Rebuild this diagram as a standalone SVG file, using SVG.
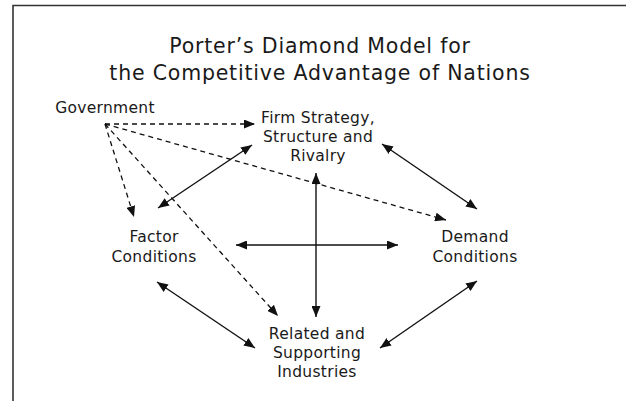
<svg xmlns="http://www.w3.org/2000/svg" width="626" height="401" viewBox="0 0 626 401">
<style>
text{font-family:"DejaVu Sans","Verdana",sans-serif;fill:#1a1a1a;text-anchor:middle}
.t{font-size:20.5px;letter-spacing:0.8px}
.n{font-size:15.5px;letter-spacing:0.3px}
.s{stroke:#111;stroke-width:1.4;fill:none}
.d{stroke:#111;stroke-width:1.3;fill:none;stroke-dasharray:5 4}
</style>
<defs>
<marker id="ah" viewBox="0 0 11 9" refX="11" refY="4.5" markerWidth="11" markerHeight="9" markerUnits="userSpaceOnUse" orient="auto-start-reverse">
<path d="M0,0 L11,4.5 L0,9 z" fill="#111"/>
</marker>
</defs>
<rect width="626" height="401" fill="#fff"/>
<path d="M13,401 V5.5 H626" fill="none" stroke="#333" stroke-width="1.6"/>
<g id="title">
<text class="t" x="320" y="53">Porter’s Diamond Model for</text>
<text class="t" x="320" y="80">the Competitive Advantage of Nations</text>
</g>
<g id="government"><text class="n" x="105" y="113">Government</text></g>
<g id="firm">
<text class="n" x="318" y="123">Firm Strategy,</text>
<text class="n" x="318" y="142">Structure and</text>
<text class="n" x="318" y="161">Rivalry</text>
</g>
<g id="factor">
<text class="n" x="154" y="242">Factor</text>
<text class="n" x="154" y="262">Conditions</text>
</g>
<g id="demand">
<text class="n" x="475" y="242">Demand</text>
<text class="n" x="475" y="262">Conditions</text>
</g>
<g id="related">
<text class="n" x="317" y="339">Related and</text>
<text class="n" x="317" y="358">Supporting</text>
<text class="n" x="317" y="377">Industries</text>
</g>
<g id="connectors">
<line class="s" x1="158" y1="208" x2="252" y2="145" marker-start="url(#ah)" marker-end="url(#ah)"/>
<line class="s" x1="382" y1="144" x2="477" y2="209" marker-start="url(#ah)" marker-end="url(#ah)"/>
<line class="s" x1="157" y1="282" x2="255" y2="348" marker-start="url(#ah)" marker-end="url(#ah)"/>
<line class="s" x1="477" y1="281" x2="380" y2="348" marker-start="url(#ah)" marker-end="url(#ah)"/>
<line class="s" x1="316" y1="173" x2="316" y2="317" marker-start="url(#ah)" marker-end="url(#ah)"/>
<line class="s" x1="236" y1="245" x2="398" y2="245" marker-start="url(#ah)" marker-end="url(#ah)"/>
<line class="d" x1="105" y1="124" x2="255" y2="124" marker-end="url(#ah)"/>
<line class="d" x1="105" y1="124" x2="446" y2="220" marker-end="url(#ah)"/>
<line class="d" x1="105" y1="124" x2="134" y2="217" marker-end="url(#ah)"/>
<line class="d" x1="105" y1="124" x2="278" y2="316" marker-end="url(#ah)"/>
</g>
</svg>
